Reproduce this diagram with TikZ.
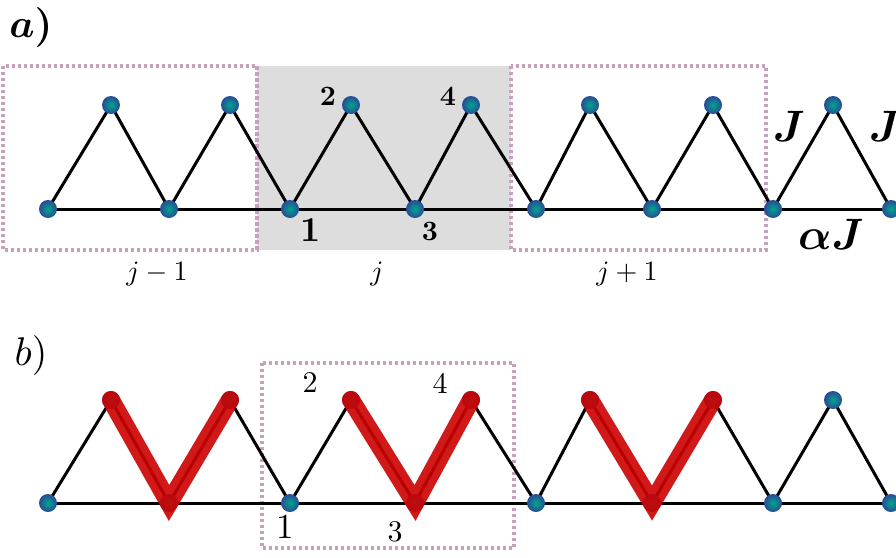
\documentclass[tikz,border=0pt]{standalone}
\usepackage{amsmath,bm}
\usepackage{graphicx}
\newcommand{\szx}[2]{\scalebox{#1}{#2}}
\begin{document}
\begin{tikzpicture}[x=1pt,y=-1pt]
\tikzset{
  site/.style={circle,inner sep=0pt,minimum size=18pt,shading=radial,inner color={rgb,255:red,0;green,165;blue,140},outer color={rgb,255:red,40;green,75;blue,150}},
  bond/.style={line width=3pt,black},
  cell/.style={draw={rgb,255:red,200;green,160;blue,185},line width=3.5pt,dash pattern=on 3pt off 3pt},
  dimer/.style={line width=18pt,draw={rgb,255:red,205;green,0;blue,0},opacity=0.9,line cap=round,line join=miter},
  txt/.style={inner sep=0pt}}
\useasboundingbox (0,0) rectangle (896,557);
\clip (0,0) rectangle (896,557);
\fill[white] (0,0) rectangle (896,557);
% panel a boxes
\fill[fill={rgb,255:red,221;green,221;blue,221}] (257,66) rectangle (511,250);
\draw[cell] (3,66) rectangle (257,250);
\draw[cell] (257,66) -- (257,250);
\draw[cell] (511,66) rectangle (766,250);
% panel b box
\draw[cell] (262,363) rectangle (514,548);
% coordinates
\foreach \n/\x in {0/48,1/169,2/290,3/415,4/536,5/652,6/773,7/891}{
  \coordinate (ab\n) at (\x,209);
  \coordinate (bb\n) at (\x,503);
}
\foreach \n/\x in {0/111,1/230,2/351,3/471,4/590,5/713,6/833}{
  \coordinate (at\n) at (\x,105);
  \coordinate (bt\n) at (\x,400);
}
% bonds
\foreach \pp in {a,b}{
  \draw[bond] (\pp b0) -- (\pp b7);
  \draw[bond] (\pp b0) -- (\pp t0) -- (\pp b1) -- (\pp t1) -- (\pp b2) -- (\pp t2) -- (\pp b3) -- (\pp t3) -- (\pp b4) -- (\pp t4) -- (\pp b5) -- (\pp t5) -- (\pp b6) -- (\pp t6) -- (\pp b7);
}
% sites
\foreach \pp in {a,b}{
  \foreach \n in {0,...,7}{\node[site] (s\pp b\n) at (\pp b\n) {};}
  \foreach \n in {0,...,6}{\node[site] (s\pp t\n) at (\pp t\n) {};}
}
% dimers
\draw[dimer] (sbt0.center) -- (sbb1.center) -- (sbt1.center);
\draw[dimer] (sbt2.center) -- (sbb3.center) -- (sbt3.center);
\draw[dimer] (sbt4.center) -- (sbb5.center) -- (sbt5.center);
% labels panel a
\node[txt] (la) at (31,27) {\szx{4}{$\bm{a)}$}};
\node[txt] (a2) at (328,96) {\szx{2.8}{\bfseries 2}};
\node[txt] (a4) at (448,96) {\szx{2.8}{\bfseries 4}};
\node[txt] (a1) at (311,230) {\szx{3.5}{\bfseries 1}};
\node[txt] (a3) at (430,231) {\szx{2.8}{\bfseries 3}};
\node[txt] (J1) at (789,126) {\szx{4.4}{$\bm{J}$}};
\node[txt] (J2) at (885,126) {\szx{4.4}{$\bm{J}$}};
\node[txt] (aJ) at (831,234) {\szx{4.4}{$\bm{\alpha J}$}};
\node[txt] (c1) at (157,274) {\szx{2.8}{$j-1$}};
\node[txt] (c2) at (377,274) {\szx{2.8}{$j$}};
\node[txt] (c3) at (627,274) {\szx{2.8}{$j+1$}};
% labels panel b
\node[txt] (lb) at (31,355) {\szx{4}{$b)$}};
\node[txt] (b2) at (310,383) {\szx{3}{2}};
\node[txt] (b4) at (440,383) {\szx{3}{4}};
\node[txt] (b1) at (285,527) {\szx{3.5}{1}};
\node[txt] (b3) at (395,532) {\szx{3}{3}};
\end{tikzpicture}
\end{document}
